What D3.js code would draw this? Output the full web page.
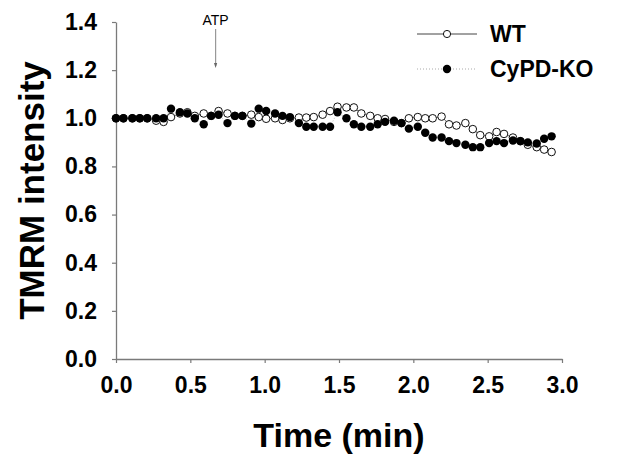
<!DOCTYPE html>
<html lang="en">

<head>
    <meta charset="UTF-8" />
    <title>TMRM intensity</title>
    <style>
        body { margin: 0; background: #fff; }
        svg text { font-family: "Liberation Sans", Arial, sans-serif; }
    </style>
</head>

<body>
    <svg id="chart"></svg>

    <script src="https://d3js.org/d3.v7.min.js"></script>
    <script>
        // time points (min)
        const times = [0.00, 0.05, 0.11, 0.16, 0.21, 0.27, 0.32, 0.37, 0.43, 0.48,
            0.53, 0.59, 0.64, 0.69, 0.75, 0.80, 0.85, 0.91, 0.96, 1.01,
            1.07, 1.12, 1.17, 1.23, 1.28, 1.33, 1.39, 1.44, 1.49, 1.55,
            1.60, 1.65, 1.71, 1.76, 1.81, 1.87, 1.92, 1.97, 2.03, 2.08,
            2.13, 2.19, 2.24, 2.29, 2.35, 2.40, 2.45, 2.51, 2.56, 2.61,
            2.67, 2.72, 2.77, 2.83, 2.88, 2.93];

        const wt = [1.0, 1.0, 1.0, 1.0, 1.0, 0.99, 0.985, 1.005, 1.02, 1.025,
            1.01, 1.02, 1.01, 1.03, 1.02, 1.01, 1.01, 1.015, 1.005, 0.998,
            1.0, 0.993, 1.0, 1.003, 1.003, 1.005, 1.015, 1.03, 1.048, 1.045,
            1.045, 1.02, 1.01, 1.0, 0.997, 0.985, 0.98, 1.0, 1.005, 1.0,
            1.0, 1.007, 0.975, 0.97, 0.98, 0.955, 0.93, 0.925, 0.943, 0.935,
            0.92, 0.905, 0.89, 0.88, 0.87, 0.86];

        const ko = [1.0, 1.0, 1.0, 1.0, 1.0, 1.0, 1.0, 1.04, 1.025, 1.02,
            1.0, 0.975, 1.01, 1.015, 0.98, 1.01, 1.01, 0.978, 1.04, 1.03,
            1.02, 1.01, 1.005, 0.98, 0.965, 0.965, 0.965, 0.965, 1.025, 1.0,
            0.975, 0.965, 0.965, 0.975, 0.985, 0.99, 0.98, 0.957, 0.965, 0.94,
            0.92, 0.92, 0.905, 0.897, 0.89, 0.88, 0.88, 0.897, 0.905, 0.897,
            0.908, 0.905, 0.90, 0.895, 0.915, 0.925];

        const xTicks = [0, 0.5, 1.0, 1.5, 2.0, 2.5, 3.0];
        const yTicks = [0, 0.2, 0.4, 0.6, 0.8, 1.0, 1.2, 1.4];
        const atpTime = 0.67;

        const width = 623;
        const height = 467;
        const axisColor = '#7a7a7a';

        const svg = d3.select('#chart')
            .attr('width', width)
            .attr('height', height);

        const x = d3.scaleLinear().domain([0, 3]).range([116, 562]);
        const y = d3.scaleLinear().domain([0, 1.4]).range([359, 22]);

        // axes
        const yAxis = svg.append('g')
            .attr('transform', `translate(${x(0)},0)`)
            .call(d3.axisLeft(y).tickValues(yTicks).tickSize(4).tickSizeOuter(0)
                .tickPadding(15).tickFormat(d3.format('.1f')));

        const xAxis = svg.append('g')
            .attr('transform', `translate(0,${y(0)})`)
            .call(d3.axisBottom(x).tickValues(xTicks).tickSize(4).tickSizeOuter(0)
                .tickPadding(14).tickFormat(d3.format('.1f')));

        [xAxis, yAxis].forEach(g => {
            g.select('.domain').attr('stroke', axisColor).attr('stroke-width', 1.3);
            g.selectAll('.tick line').attr('stroke', axisColor).attr('stroke-width', 1.2);
            g.selectAll('.tick text')
                .attr('fill', '#000')
                .style('font-size', '23px')
                .style('font-weight', 'bold');
        });

        // axis titles
        svg.append('text')
            .attr('x', (x(0) + x(3)) / 2)
            .attr('y', 447)
            .attr('text-anchor', 'middle')
            .style('font-size', '34px')
            .style('font-weight', 'bold')
            .text('Time (min)');

        svg.append('text')
            .attr('transform', `translate(44,${(y(0) + y(1.4)) / 2}) rotate(-90)`)
            .attr('text-anchor', 'middle')
            .style('font-size', '35px')
            .style('font-weight', 'bold')
            .text('TMRM intensity');

        // ATP marker
        svg.append('defs').append('marker')
            .attr('id', 'head')
            .attr('viewBox', '0 0 6 6')
            .attr('refX', 3).attr('refY', 6)
            .attr('markerWidth', 4).attr('markerHeight', 4)
            .attr('orient', 'auto-start-reverse')
            .append('path')
            .attr('d', 'M0,0 L3,6 L6,0 Z')
            .attr('fill', '#666');

        svg.append('line')
            .attr('x1', x(atpTime)).attr('x2', x(atpTime))
            .attr('y1', 29).attr('y2', 66)
            .attr('stroke', '#999')
            .attr('stroke-width', 1.2);

        svg.append('path')
            .attr('d', `M${x(atpTime) - 1.6},63 L${x(atpTime)},68 L${x(atpTime) + 1.6},63 Z`)
            .attr('fill', '#666');

        svg.append('text')
            .attr('x', x(atpTime))
            .attr('y', 25)
            .attr('text-anchor', 'middle')
            .style('font-size', '14px')
            .text('ATP');

        // series
        const line = vals => d3.line()
            .x((d, i) => x(times[i]))
            .y(d => y(d))(vals);

        svg.append('path')
            .attr('d', line(wt))
            .attr('fill', 'none')
            .attr('stroke', '#444')
            .attr('stroke-width', 0.8);

        svg.append('path')
            .attr('d', line(ko))
            .attr('fill', 'none')
            .attr('stroke', '#aaa')
            .attr('stroke-width', 0.8)
            .attr('stroke-dasharray', '1,2');

        svg.append('g').selectAll('circle')
            .data(wt)
            .join('circle')
            .attr('cx', (d, i) => x(times[i]))
            .attr('cy', d => y(d))
            .attr('r', 3.8)
            .attr('fill', '#fff')
            .attr('stroke', '#111')
            .attr('stroke-width', 1);

        svg.append('g').selectAll('circle')
            .data(ko)
            .join('circle')
            .attr('cx', (d, i) => x(times[i]))
            .attr('cy', d => y(d))
            .attr('r', 4.2)
            .attr('fill', '#000');

        // legend
        const legend = svg.append('g');
        const items = [
            { label: 'WT', y: 34, fill: '#fff', dash: null, stroke: '#444' },
            { label: 'CyPD-KO', y: 69, fill: '#000', dash: '1,2', stroke: '#aaa' }
        ];
        items.forEach(it => {
            legend.append('line')
                .attr('x1', 417).attr('x2', 477)
                .attr('y1', it.y).attr('y2', it.y)
                .attr('stroke', it.stroke)
                .attr('stroke-width', 1)
                .attr('stroke-dasharray', it.dash);
            legend.append('circle')
                .attr('cx', 447).attr('cy', it.y)
                .attr('r', it.fill === '#fff' ? 3.6 : 4.2)
                .attr('fill', it.fill)
                .attr('stroke', '#111')
                .attr('stroke-width', it.fill === '#fff' ? 1 : 0);
            legend.append('text')
                .attr('x', 490)
                .attr('y', it.y + 8)
                .style('font-size', '23px')
                .style('font-weight', 'bold')
                .text(it.label);
        });
    </script>
</body>

</html>
